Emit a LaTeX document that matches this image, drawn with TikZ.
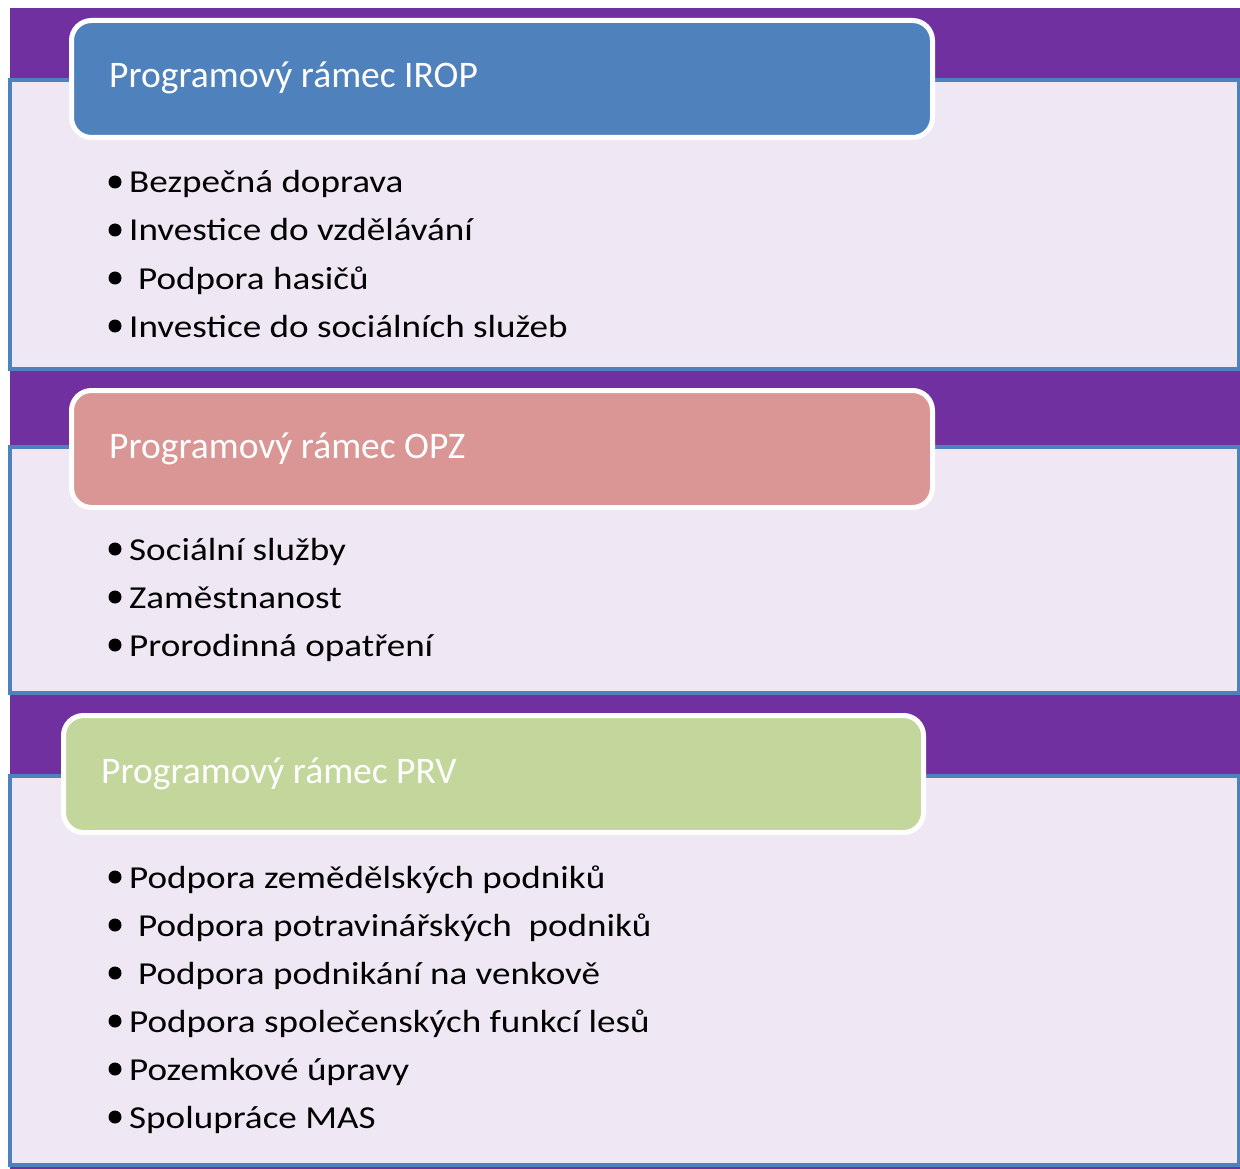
\documentclass[tikz,border=0pt]{standalone}
\usepackage{fontspec}
\setmainfont{Carlito}
\newfontfamily\bodyfont[FakeStretch=1.16]{Carlito}
\definecolor{bandpurple}{HTML}{7030A0}
\definecolor{edgeblue}{HTML}{4F81BD}
\definecolor{boxfill}{HTML}{EFE7F4}
\definecolor{hdrblue}{HTML}{4F81BD}
\definecolor{hdrpink}{HTML}{D99694}
\definecolor{hdrgreen}{HTML}{C3D69B}
\tikzset{
  panel/.style={draw=edgeblue, line width=4pt, fill=boxfill},
  hdr/.style={draw=white, line width=5pt, rounded corners=20pt},
  hdrtext/.style={anchor=base west, inner sep=0pt, text=white, font=\fontsize{37.5}{44}\selectfont},
  item/.style={anchor=base west, inner sep=0pt, text=black, font=\bodyfont\fontsize{32}{38}\selectfont},
  dot/.style={fill=black}
}
\begin{document}
\begin{tikzpicture}[x=1pt,y=-1pt]
\useasboundingbox (0,0) rectangle (1240,1169);
\fill[white] (0,0) rectangle (1240,1169);
\fill[bandpurple] (10,8) rectangle (1240,1169);
% panels
\draw[panel] (9.5,80) rectangle (1238.5,368.5);
\draw[panel] (9.5,446.5) rectangle (1238.5,692.5);
\draw[panel] (9.5,775.5) rectangle (1238.5,1164.5);
% headers
\draw[hdr, fill=hdrblue] (71.5,20.5) rectangle (932.5,137.5);
\draw[hdr, fill=hdrpink] (71.5,390.5) rectangle (932.5,507.5);
\draw[hdr, fill=hdrgreen] (63.5,715.5) rectangle (923.5,832.5);
\node[hdrtext] (h1) at (109,88) {Programový rámec IROP};
\node[hdrtext] (h2) at (109,458) {Programový rámec OPZ};
\node[hdrtext] (h3) at (101,783) {Programový rámec PRV};
% items IROP
\node[item] (a1) at (129,193) {Bezpečná doprava};
\node[item] (a2) at (129,241) {Investice do vzdělávání};
\node[item] (a3) at (138,289) {Podpora hasičů};
\node[item] (a4) at (129,337) {Investice do sociálních služeb};
% items OPZ
\node[item] (b1) at (129,560) {Sociální služby};
\node[item] (b2) at (129,608) {Zaměstnanost};
\node[item] (b3) at (129,656) {Prorodinná opatření};
% items PRV
\node[item] (c1) at (129,888) {Podpora zemědělských podniků};
\node[item] (c2) at (138,936) {Podpora potravinářských\ \ podniků};
\node[item] (c3) at (138,984) {Podpora podnikání na venkově};
\node[item] (c4) at (129,1032) {Podpora společenských funkcí lesů};
\node[item] (c5) at (129,1080) {Pozemkové úpravy};
\node[item] (c6) at (129,1128) {Spolupráce MAS};
% bullets
\foreach \yy in {182,230,278,326,549,597,645,877,925,973,1021,1069,1117}
  \fill[dot] (115,\yy) circle (6.5pt);
\end{tikzpicture}
\end{document}
